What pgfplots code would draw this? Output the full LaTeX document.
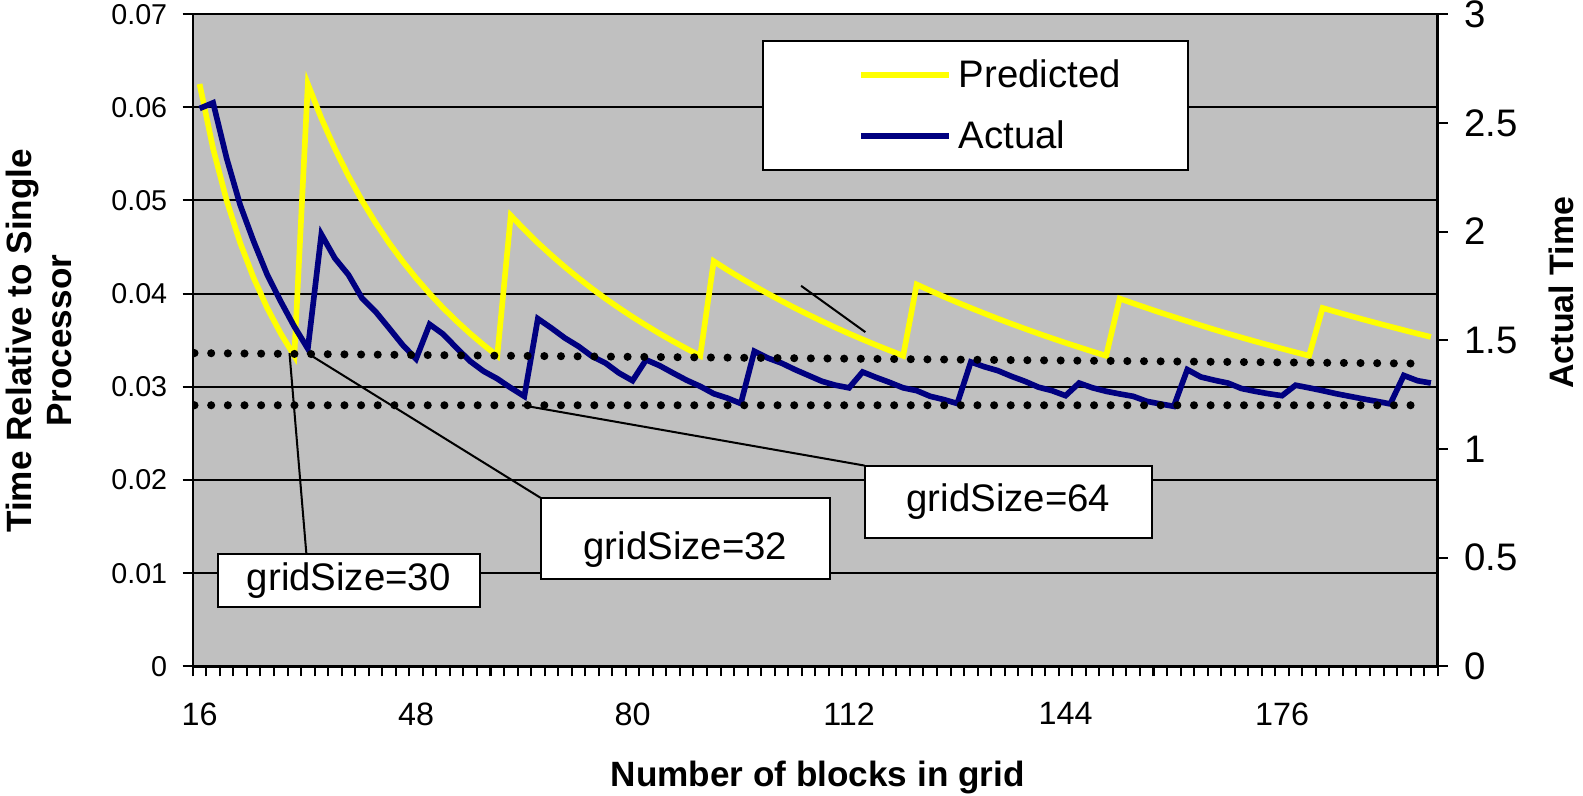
\documentclass[border=0pt]{standalone}
\usepackage{fontspec}
\setmainfont{Liberation Sans}
\usepackage{pgfplots}
\usepackage{pgfplotstable}
\pgfplotsset{compat=1.18}
\definecolor{plotgray}{RGB}{192,192,192}
\definecolor{navy}{RGB}{0,0,128}
\definecolor{ylw}{RGB}{255,255,0}

\pgfplotstableread{
n pred
16 0.0625
18 0.05556
20 0.05
22 0.04545
24 0.04167
26 0.03846
28 0.03571
30 0.03333
32 0.0625
34 0.05882
36 0.05556
38 0.05263
40 0.05
42 0.04762
44 0.04545
46 0.04348
48 0.04167
50 0.04
52 0.03846
54 0.03704
56 0.03571
58 0.03448
60 0.03333
62 0.04839
64 0.04688
66 0.04545
68 0.04412
70 0.04286
72 0.04167
74 0.04054
76 0.03947
78 0.03846
80 0.0375
82 0.03659
84 0.03571
86 0.03488
88 0.03409
90 0.03333
92 0.04348
94 0.04255
96 0.04167
98 0.04082
100 0.04
102 0.03922
104 0.03846
106 0.03774
108 0.03704
110 0.03636
112 0.03571
114 0.03509
116 0.03448
118 0.0339
120 0.03333
122 0.04098
124 0.04032
126 0.03968
128 0.03906
130 0.03846
132 0.03788
134 0.03731
136 0.03676
138 0.03623
140 0.03571
142 0.03521
144 0.03472
146 0.03425
148 0.03378
150 0.03333
152 0.03947
154 0.03896
156 0.03846
158 0.03797
160 0.0375
162 0.03704
164 0.03659
166 0.03614
168 0.03571
170 0.03529
172 0.03488
174 0.03448
176 0.03409
178 0.03371
180 0.03333
182 0.03846
184 0.03804
186 0.03763
188 0.03723
190 0.03684
192 0.03646
194 0.03608
196 0.03571
198 0.03535
}\predtable

\pgfplotstableread{
n act
16 2.566
18 2.592
20 2.337
22 2.122
24 1.954
26 1.801
28 1.678
30 1.563
32 1.461
34 1.987
36 1.877
38 1.801
40 1.694
42 1.632
44 1.556
46 1.479
48 1.414
50 1.573
52 1.528
54 1.464
56 1.403
58 1.357
60 1.323
62 1.281
64 1.242
66 1.599
68 1.556
70 1.510
72 1.472
74 1.426
76 1.395
78 1.349
80 1.314
82 1.410
84 1.383
86 1.349
88 1.316
90 1.288
92 1.254
94 1.234
96 1.209
98 1.449
100 1.418
102 1.395
104 1.365
106 1.338
108 1.311
110 1.293
112 1.281
114 1.354
116 1.329
118 1.306
120 1.281
122 1.268
124 1.242
126 1.227
128 1.209
130 1.400
132 1.378
134 1.360
136 1.334
138 1.311
140 1.284
142 1.268
144 1.245
146 1.303
148 1.281
150 1.265
152 1.253
154 1.242
156 1.219
158 1.207
160 1.196
162 1.365
164 1.331
166 1.316
168 1.303
170 1.278
172 1.265
174 1.254
176 1.245
178 1.293
180 1.281
182 1.268
184 1.254
186 1.242
188 1.230
190 1.219
192 1.207
194 1.338
196 1.314
198 1.303
}\acttable

\begin{document}
\begin{tikzpicture}
\useasboundingbox (-95.5pt,-64pt) rectangle (688.5pt,330pt);
\begin{axis}[
  at={(0pt,0pt)}, anchor=south west,
  scale only axis, width=616.5pt, height=323pt,
  xmin=15, xmax=199, ymin=0, ymax=0.07,
  axis background/.style={fill=plotgray},
  axis line style={line width=1.2pt},
  xtick pos=left, ytick pos=left,
  tick align=outside,
  major tick length=0pt, minor tick length=5pt,
  every tick/.style={black, line width=1pt},
  xtick={16,48,80,112,144,176},
  minor xtick={15,17,...,199},
  ytick={0,0.01,0.02,0.03,0.04,0.05,0.06,0.07},
  minor ytick={0,0.01,0.02,0.03,0.04,0.05,0.06,0.07},
  scaled y ticks=false,
  yticklabel style={/pgf/number format/fixed, /pgf/number format/precision=2, /pgf/number format/assume math mode=true, font=\fontsize{14.2}{14.2}\selectfont, anchor=east, inner sep=0pt, xshift=-12.5pt},
  xticklabel style={/pgf/number format/assume math mode=true, font=\fontsize{16}{16}\selectfont, anchor=north, inner sep=0pt, yshift=-17.7pt},
  ymajorgrids,
  grid style={black, line width=1pt, solid},
  xlabel={Number of blocks in grid},
  xlabel style={font=\bfseries\fontsize{17.4}{17.4}\selectfont, at={(axis description cs:0.502,-0.170)}, anchor=center},
  ylabel={Time Relative to Single\\Processor},
  ylabel style={font=\bfseries\fontsize{17.4}{19.5}\selectfont, align=center, at={(axis description cs:-0.1237,0.4992)}, anchor=center},
]
\addplot[ylw, line width=2.8pt] table[x=n, y=pred] {\predtable};
\end{axis}

\begin{axis}[
  at={(0pt,0pt)}, anchor=south west,
  scale only axis, width=616.5pt, height=323pt,
  xmin=15, xmax=199, ymin=0, ymax=3,
  axis x line=none, axis y line*=right,
  axis line style={line width=1.2pt},
  tick align=outside, major tick length=5pt,
  every tick/.style={black, line width=1pt},
  ytick={0,0.5,1,1.5,2,2.5,3},
  yticklabel style={/pgf/number format/assume math mode=true, font=\fontsize{19}{19}\selectfont, anchor=west, inner sep=0pt, xshift=8pt},
  ylabel={Actual Time},
  ylabel style={font=\bfseries\fontsize{16.8}{16.8}\selectfont, at={(axis description cs:1.0998,0.5728)}, anchor=center},
  legend style={at={(axis description cs:0.4574,0.9598)}, anchor=north west, draw=black, line width=1pt, fill=white,
    inner xsep=33.5pt, inner ysep=9pt, row sep=15pt, font=\fontsize{19}{19}\selectfont,
    nodes={inner sep=0pt}, /tikz/every odd column/.append style={column sep=3.5pt}},
  legend cell align=left,
  legend image code/.code={\path (-13.5pt,0pt); \draw[#1] (0pt,0pt) -- (43.5pt,0pt);},
]
\addlegendimage{ylw, line width=2.8pt}
\addlegendentry{Predicted}
\addplot[navy, line width=2.8pt] table[x=n, y=act] {\acttable};
\addlegendentry{Actual}

% dotted reference lines
\addplot[forget plot, black, line width=4pt, line cap=round, dash pattern=on 0pt off 8.25pt] coordinates {(15.25,1.4409) (197.3,1.3924)};
\addplot[forget plot, black, line width=4pt, line cap=round, dash pattern=on 0pt off 8.25pt] coordinates {(15.25,1.2009) (195.3,1.2009)};

% pointer lines
\addplot[forget plot, black, line width=1pt] coordinates {(29.29,1.4409) (31.79,0.5152)};
\addplot[forget plot, black, line width=1pt] coordinates {(31.9,1.4409) (66.4,0.7751)};
\addplot[forget plot, black, line width=1pt] coordinates {(63.68,1.2009) (114.29,0.9234)};
\addplot[forget plot, black, line width=1pt] coordinates {(104.91,1.7503) (114.41,1.5373)};

\node[draw=black, line width=1pt, fill=white, minimum width=130pt, minimum height=26pt, inner sep=0pt, font=\fontsize{19}{19}\selectfont] at (axis cs:38.05,0.3949) {gridSize=30};
\node[draw=black, line width=1pt, fill=white, minimum width=143.5pt, minimum height=40pt, inner sep=0pt, text height=25pt, text depth=4pt, font=\fontsize{19}{19}\selectfont] at (axis cs:87.81,0.5896) {gridSize=32};
\node[draw=black, line width=1pt, fill=white, minimum width=142.5pt, minimum height=36pt, inner sep=0pt, font=\fontsize{19}{19}\selectfont] at (axis cs:135.56,0.7563) {gridSize=64};
\end{axis}
\end{tikzpicture}
\end{document}
